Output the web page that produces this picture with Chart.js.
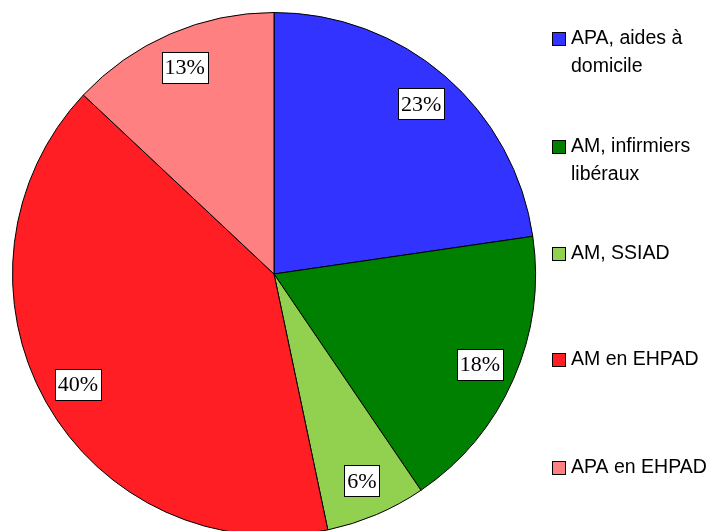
<!DOCTYPE html>
<html>
<head>
<meta charset="utf-8">
<script src="https://cdn.jsdelivr.net/npm/chart.js@4/dist/chart.umd.min.js"></script>
<style>
  html,body{margin:0;padding:0;background:#fff;overflow:hidden;}
  #wrap{position:relative;width:708px;height:548px;}
</style>
</head>
<body>
<div id="wrap"><canvas id="c" width="708" height="548"></canvas></div>
<script>
const categories = ['APA, aides à domicile','AM, infirmiers libéraux','AM, SSIAD','AM en EHPAD','APA en EHPAD'];
const legendLines = [['APA, aides à','domicile'],['AM, infirmiers','libéraux'],['AM, SSIAD'],['AM en EHPAD'],['APA en EHPAD']];
const shares = [22.7, 17.8, 6.2, 40.3, 13.0];
const colors = ['#3333ff', '#008000', '#92d050', '#ff1e24', '#ff8080'];

// percentage boxes inside slices
const boxLabels = {
  id:'boxLabels',
  afterDatasetsDraw(chart){
    const ctx = chart.ctx;
    const meta = chart.getDatasetMeta(0);
    ctx.save();
    ctx.font = '22px "Liberation Serif", serif';
    ctx.textAlign = 'center';
    ctx.textBaseline = 'middle';
    meta.data.forEach((arc,i)=>{
      const p = arc.getProps(['x','y','startAngle','endAngle','outerRadius'], true);
      const mid = (p.startAngle+p.endAngle)/2;
      const r = p.outerRadius*0.86;
      const x = p.x + Math.cos(mid)*r, y = p.y + Math.sin(mid)*r;
      const txt = Math.round(shares[i])+'%';
      const w = ctx.measureText(txt).width + 6, h = 31;
      ctx.fillStyle = '#fff';
      ctx.fillRect(Math.round(x-w/2)+0.5, Math.round(y-h/2)+0.5, Math.round(w), h);
      ctx.strokeStyle = '#000'; ctx.lineWidth = 1;
      ctx.strokeRect(Math.round(x-w/2)+0.5, Math.round(y-h/2)+0.5, Math.round(w), h);
      ctx.fillStyle = '#000';
      ctx.fillText(txt, x, y+1);
    });
    ctx.restore();
  }
};

// legend on the right with wrapped labels
const sideLegend = {
  id:'sideLegend',
  afterDraw(chart){
    const ctx = chart.ctx;
    const tops = [39, 147, 254, 360, 468];
    ctx.save();
    ctx.font = '19.5px "Liberation Sans", sans-serif';
    ctx.textBaseline = 'middle';
    legendLines.forEach((lines,i)=>{
      const y = tops[i];
      ctx.fillStyle = colors[i];
      ctx.fillRect(552.5, y-6.5, 13, 13);
      ctx.strokeStyle = '#000'; ctx.lineWidth = 1;
      ctx.strokeRect(552.5, y-6.5, 13, 13);
      ctx.fillStyle = '#000';
      lines.forEach((t,j)=> ctx.fillText(t, 571, y + j*28));
    });
    ctx.restore();
  }
};

new Chart(document.getElementById('c'), {
  type:'pie',
  data:{ labels:categories, datasets:[{ data:shares, backgroundColor:colors, borderColor:'#000', borderWidth:1 }] },
  options:{
    responsive:false, animation:false,
    layout:{ padding:{ left:12, top:12, right:172, bottom:12 } },
    plugins:{ legend:{ display:false }, tooltip:{ enabled:false } }
  },
  plugins:[boxLabels, sideLegend]
});
</script>
</body>
</html>
